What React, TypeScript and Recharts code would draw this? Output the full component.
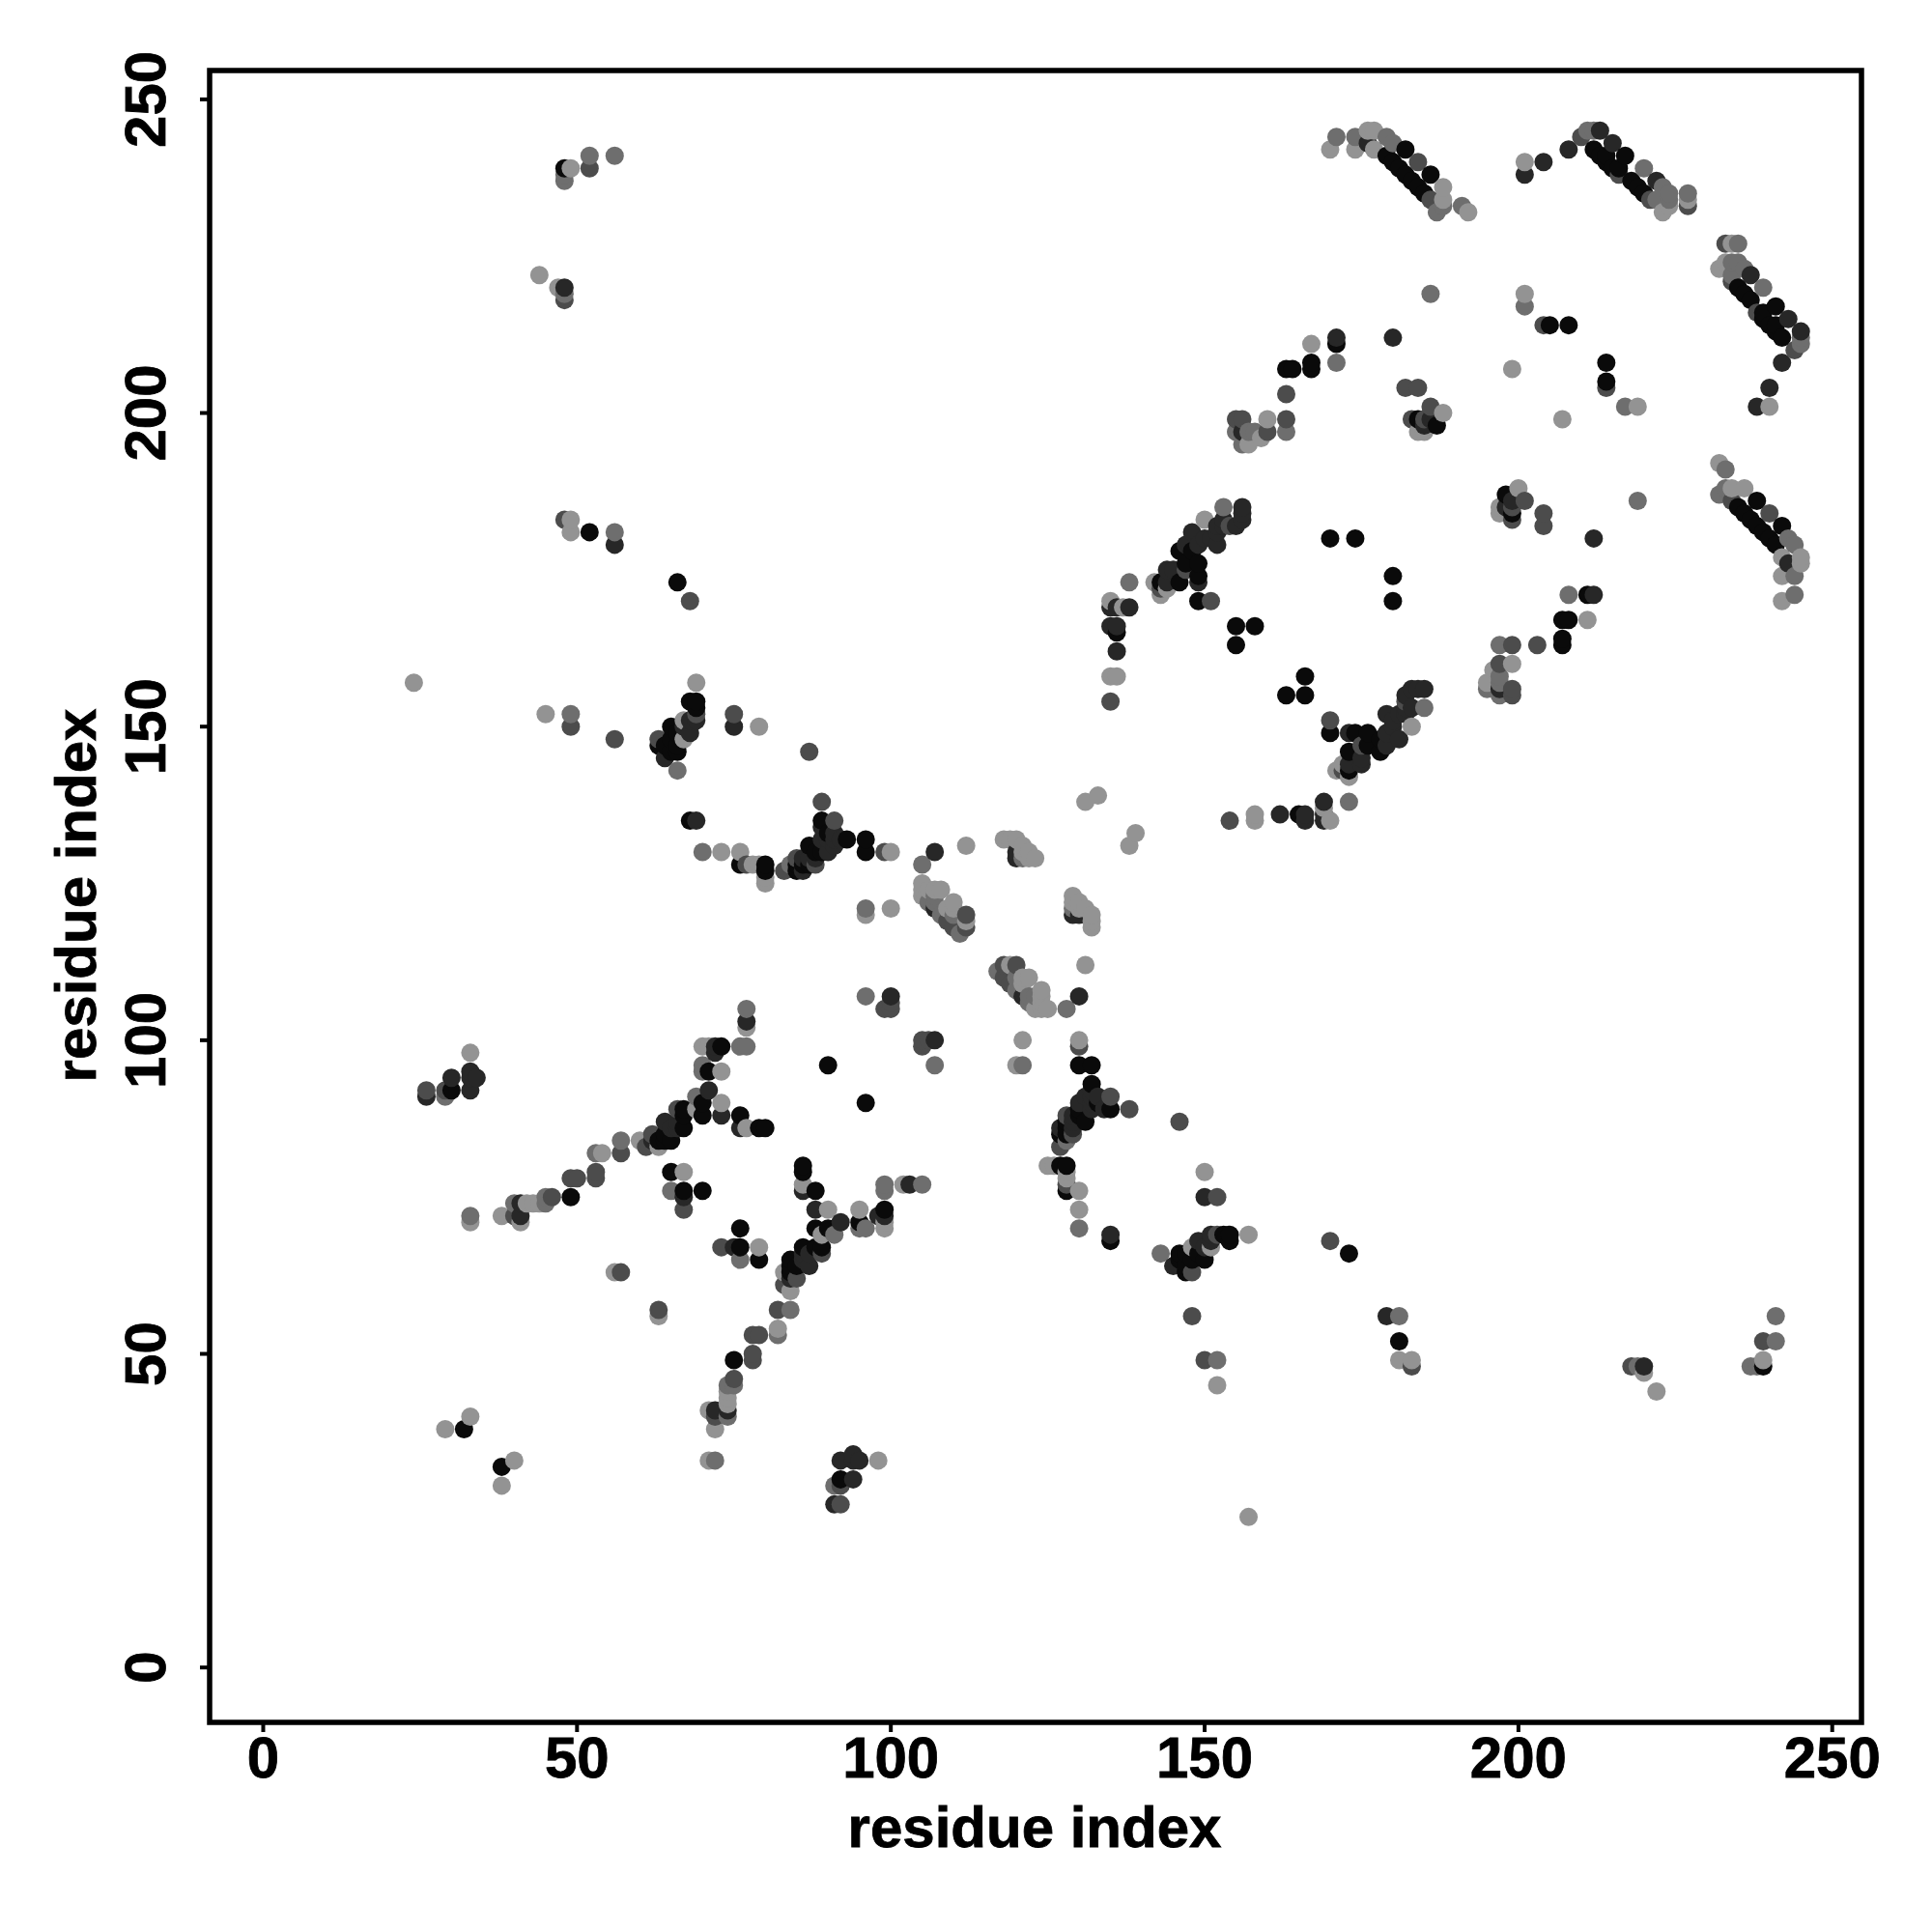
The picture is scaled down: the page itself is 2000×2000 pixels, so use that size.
import { ReferenceArea, Scatter, ScatterChart, XAxis, YAxis } from "recharts";

const X_TICKS = [0, 50, 100, 150, 200, 250];
const Y_TICKS = [0, 50, 100, 150, 200, 250];
const AXIS_TITLE = "residue index";

// contacts as [i, j]; the map is symmetric, so each is drawn on both sides
const contactsBlack = [
  [32, 38], [30, 92], [49, 75], [52, 181], [66, 173], [65, 79], [67, 76], [70, 76], [63, 84], [64, 84], [65, 84],
  [64, 85], [67, 86], [67, 88], [67, 89], [70, 88], [70, 90], [71, 95], [73, 99], [76, 88], [79, 86], [80, 86],
  [90, 96], [68, 154], [69, 154], [69, 153], [65, 150], [66, 149], [63, 147], [65, 148], [64, 147], [66, 146],
  [65, 146], [66, 147], [68, 135], [76, 128], [80, 128], [80, 127], [85, 127], [85, 128], [86, 128], [87, 128],
  [87, 131], [89, 130], [88, 130], [89, 135], [90, 133], [93, 132], [96, 132], [96, 130], [48, 239], [127, 80],
  [128, 80], [149, 174], [149, 170], [146, 178], [146, 173], [143, 173], [136, 165], [147, 176],
  [148, 178], [149, 176], [155, 166], [158, 166], [155, 163], [170, 180], [174, 180], [179, 241], [180, 240],
  [181, 239], [182, 238], [183, 237], [184, 236], [185, 235], [186, 238], [182, 242], [212, 242], [213, 241],
  [214, 240], [215, 239], [216, 239], [218, 237], [217, 241], [219, 236], [220, 235], [167, 208], [167, 207],
  [163, 207], [164, 207], [171, 211], [205, 214], [208, 214], [214, 205], [214, 208], [184, 199], [187, 198],
  [180, 174], [241, 214], [239, 216], [237, 218],
];
const contactsDark = [
  [26, 91], [33, 94], [33, 95], [34, 94], [30, 94], [41, 72], [41, 74], [48, 220], [56, 179], [72, 41],
  [92, 30], [94, 30], [92, 33], [94, 34], [95, 33], [64, 87], [65, 86], [66, 87], [66, 86], [62, 84],
  [67, 75], [76, 86], [71, 92], [72, 98], [72, 99], [73, 88], [77, 103], [100, 107], [107, 100],
  [67, 150], [68, 149], [68, 151], [69, 151], [64, 145], [75, 150], [69, 135], [86, 127], [86, 129], [87, 129],
  [89, 132], [89, 134], [90, 130], [90, 132], [91, 133], [91, 131], [107, 121], [120, 129], [120, 130], [107, 130],
  [132, 92], [130, 90], [132, 91], [133, 91], [129, 88], [127, 85], [135, 166], [136, 166], [135, 169], [136, 169],
  [136, 162], [138, 169], [144, 175], [145, 175], [144, 173], [147, 179], [148, 181], [149, 179], [149, 173],
  [151, 180], [152, 181], [152, 182], [150, 180], [152, 179], [153, 182], [155, 182], [153, 183], [156, 185],
  [156, 183], [156, 184], [176, 243], [201, 238], [204, 240], [208, 242], [215, 243], [213, 245],
  [222, 237], [171, 212], [180, 212], [162, 136], [199, 186], [198, 185], [156, 197], [238, 201],
];
const contactsMid = [
  [33, 92], [29, 92], [46, 75], [50, 78], [53, 78], [53, 79], [57, 82], [61, 83], [62, 85], [66, 89], [57, 63],
  [73, 67], [78, 49], [78, 53], [72, 40], [92, 26], [99, 105], [100, 105], [105, 99],
  [106, 100], [69, 152], [63, 148], [56, 148], [75, 152], [87, 146], [83, 127], [88, 128], [89, 138], [91, 135],
  [77, 128], [99, 130], [109, 119], [112, 120], [130, 107], [130, 99], [135, 69], [146, 87], [128, 88], [127, 83],
  [129, 85], [150, 49], [148, 56], [152, 75], [143, 172], [151, 170], [135, 154], [154, 182], [48, 218], [52, 239],
  [48, 183], [199, 155], [199, 156], [160, 197], [163, 199], [184, 240], [216, 238], [221, 234], [204, 214],
  [182, 204], [184, 204], [185, 199], [201, 186], [199, 183], [244, 210], [112, 118], [110, 118], [175, 147],
  [203, 163], [227, 233], [186, 234], [170, 68], [239, 52], [170, 151],
];
const contactsGray = [
  [26, 92], [29, 91], [33, 72], [40, 72], [40, 74], [45, 74], [45, 75], [49, 78], [53, 82], [57, 84], [70, 95],
  [70, 96], [76, 99], [77, 99], [77, 105], [69, 91], [84, 128], [85, 129], [70, 130], [65, 76],
  [79, 53], [75, 46], [75, 45], [78, 50], [82, 53], [91, 29], [91, 26], [66, 143], [49, 150],
  [96, 107], [107, 96], [96, 121], [99, 77], [111, 117], [107, 122], [107, 123], [108, 120], [110, 120],
  [106, 122], [121, 129], [48, 237], [52, 241], [56, 241], [56, 181], [128, 77], [130, 70],
  [128, 105], [138, 173], [153, 185], [152, 49], [185, 153], [173, 138],
  [171, 244], [174, 244], [179, 244], [180, 243], [187, 232], [188, 233], [186, 219], [163, 197], [171, 208],
  [155, 197], [157, 197], [156, 195], [158, 197], [185, 198], [186, 199], [186, 201],
  [197, 158], [201, 217], [233, 191], [232, 187], [233, 227], [235, 227], [224, 234],
  [236, 223], [220, 239], [224, 235], [227, 235], [211, 245], [219, 48], [241, 52], [241, 56], [238, 48], [123, 107],
  [222, 234], [212, 245],
];
const contactsLight = [
  [24, 157], [29, 38], [33, 40], [33, 71], [33, 98], [38, 72], [41, 71], [43, 74], [54, 82], [56, 63], [60, 84],
  [63, 83], [40, 33], [44, 222], [45, 152], [47, 220], [49, 152], [49, 181], [49, 183], [49, 239], [67, 79],
  [67, 151], [67, 148], [69, 157], [70, 99], [71, 99], [73, 90], [69, 89], [73, 95], [74, 40], [74, 41], [74, 42],
  [74, 44], [71, 41], [72, 38], [71, 33], [72, 33], [82, 54], [98, 33], [77, 102], [76, 130], [73, 130], [79, 128],
  [79, 150], [80, 125], [80, 126], [77, 86], [96, 120], [100, 121], [100, 130], [90, 73], [95, 73], [96, 70],
  [99, 70], [99, 76], [112, 131], [105, 123], [105, 124], [105, 125], [106, 124], [108, 124], [107, 124], [110, 122],
  [110, 121], [109, 121], [112, 119], [118, 132], [119, 132], [120, 132], [121, 131], [122, 130], [123, 129],
  [121, 130], [122, 129], [105, 128], [125, 80], [128, 78], [130, 76], [130, 73],
  [130, 100], [131, 112], [131, 138], [133, 139], [135, 158], [136, 158], [135, 170], [137, 169], [142, 173], [144, 172],
  [150, 79], [150, 183], [157, 69], [152, 45], [183, 49], [181, 49], [158, 136], [158, 135], [170, 242],
  [174, 242], [176, 245], [177, 245], [177, 242], [188, 236], [188, 234], [191, 233], [192, 232],
  [173, 142], [143, 171], [201, 240], [223, 232], [224, 233], [227, 234], [234, 227], [232, 223],
  [219, 201], [199, 207], [201, 219], [167, 211], [157, 195], [159, 196], [160, 199], [188, 200], [184, 197],
  [185, 197], [197, 185], [199, 185], [200, 188], [195, 156], [220, 47], [222, 44], [239, 49], [176, 243],
];

const GRAY_LEVELS = [
  { contacts: contactsBlack, fill: "#0a0a0a" },
  { contacts: contactsDark, fill: "#272727" },
  { contacts: contactsMid, fill: "#4c4c4c" },
  { contacts: contactsGray, fill: "#6e6e6e" },
  { contacts: contactsLight, fill: "#939393" },
];

interface ContactPoint {
  x: number;
  y: number;
  fill: string;
}

function buildPoints(): ContactPoint[] {
  const byKey = new Map<string, ContactPoint>();
  for (const level of GRAY_LEVELS) {
    for (const [a, b] of level.contacts) {
      const i = Math.min(a, b);
      const j = Math.max(a, b);
      if (!byKey.has(`${i}-${j}`)) byKey.set(`${i}-${j}`, { x: i, y: j, fill: level.fill });
    }
  }
  const points: ContactPoint[] = [];
  byKey.forEach((p) => {
    points.push(p);
    points.push({ x: p.y, y: p.x, fill: p.fill });
  });
  return points.sort((p, q) => p.x - q.x || p.y - q.y);
}

const points = buildPoints();
const FONT = "'Liberation Sans', Arial, sans-serif";
const TEXT_STYLE = {
  fontFamily: FONT,
  fontWeight: "bold",
  fontSize: 60,
  fill: "#000",
  stroke: "#000",
  strokeWidth: 0.8,
};

function ContactDot(props: any) {
  return <circle cx={props.cx} cy={props.cy} r={9.5} fill={props.payload.fill} />;
}

function XTick(props: any) {
  return (
    <text x={props.x} y={1840} textAnchor="middle" {...TEXT_STYLE}>
      {props.payload.value}
    </text>
  );
}

function YTick(props: any) {
  return (
    <text transform={`translate(171 ${props.y}) rotate(-90)`} textAnchor="middle" {...TEXT_STYLE}>
      {props.payload.value}
    </text>
  );
}

function XTitle() {
  return (
    <text x={1071} y={1912} textAnchor="middle" {...TEXT_STYLE}>
      {AXIS_TITLE}
    </text>
  );
}

function YTitle() {
  return (
    <text transform="translate(99 927) rotate(-90)" textAnchor="middle" {...TEXT_STYLE}>
      {AXIS_TITLE}
    </text>
  );
}

export default function App() {
  return (
    <div style={{ position: "absolute", left: 0, top: 0, width: 2000, height: 2000, background: "#fff" }}>
      <ScatterChart width={2000} height={2000} margin={{ top: 73, right: 73, bottom: 0, left: 0 }}>
        <XAxis
          type="number"
          dataKey="x"
          domain={[-8.54, 254.66]}
          ticks={X_TICKS}
          height={217}
          axisLine={false}
          tickLine={{ stroke: "#000", strokeWidth: 4 }}
          tickSize={10}
          tick={<XTick />}
          label={<XTitle />}
          allowDataOverflow
        />
        <YAxis
          type="number"
          dataKey="y"
          domain={[-8.75, 254.6]}
          ticks={Y_TICKS}
          width={217}
          axisLine={false}
          tickLine={{ stroke: "#000", strokeWidth: 4 }}
          tickSize={10}
          tick={<YTick />}
          label={<YTitle />}
          allowDataOverflow
        />
        <Scatter data={points} shape={<ContactDot />} isAnimationActive={false} />
        <ReferenceArea
          x1={-8.54}
          x2={254.66}
          y1={-8.75}
          y2={254.6}
          fill="none"
          stroke="#000"
          strokeWidth={5.5}
          ifOverflow="visible"
        />
      </ScatterChart>
    </div>
  );
}
